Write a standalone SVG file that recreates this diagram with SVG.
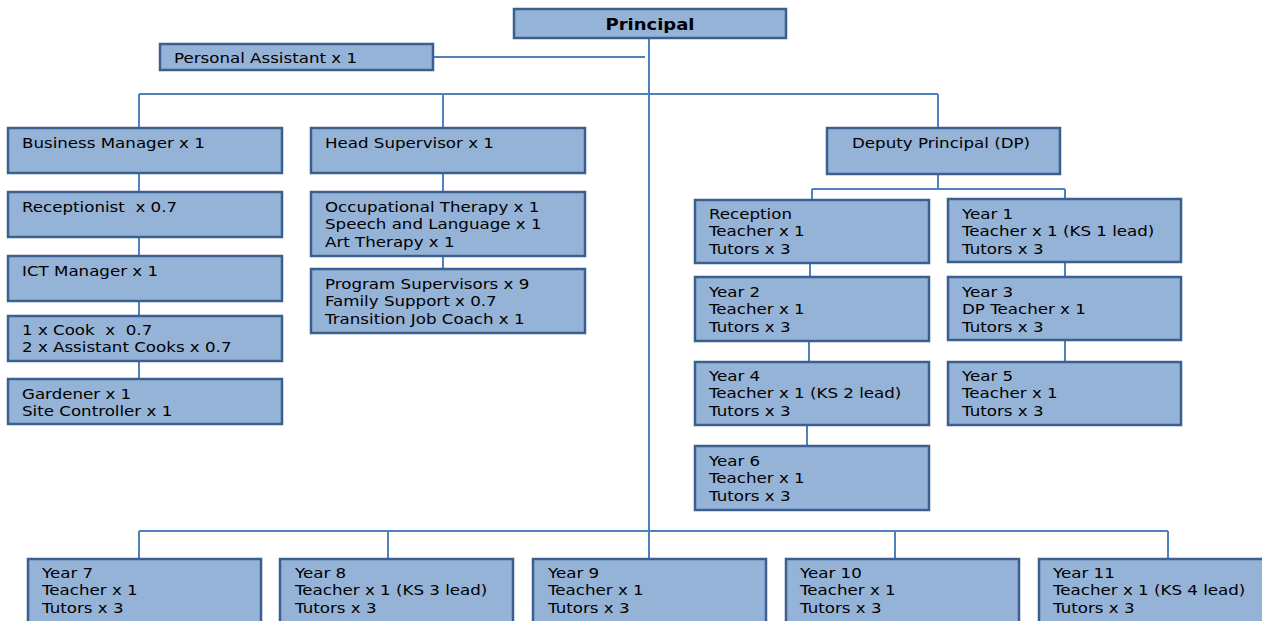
<svg xmlns="http://www.w3.org/2000/svg" width="1262" height="621" viewBox="0 0 1262 621">
<style>
.box{fill:#95B3D7;stroke:#3B6090;stroke-width:2.5}
.t{font-family:"DejaVu Sans",sans-serif;font-size:14.5px;fill:#000}
.b{font-family:"DejaVu Sans",sans-serif;font-size:15.5px;font-weight:bold;fill:#000}
.c{fill:none;stroke:#4F81BD;stroke-width:2}
</style>
<rect width="1262" height="621" fill="#fff"/>
<g id="connectors" class="c">
<path d="M433,57 H645"/>
<path d="M649,38 V559"/>
<path d="M139,94 H938 M139,94 V128 M443,94 V128 M938,94 V128"/>
<path d="M139,173 V192 M139,237 V256 M139,301 V316 M139,361 V379"/>
<path d="M443,173 V192 M443,256 V269"/>
<path d="M938,174 V189 M812,189 H1065 M812,189 V200 M1065,189 V199"/>
<path d="M810,263 V277 M809,341 V362 M807,425 V446"/>
<path d="M1065,262 V277 M1065,340 V362"/>
<path d="M139,531 H1168 M139,531 V559 M388,531 V559 M895,531 V559 M1168,531 V559"/>
</g>
<g id="principal" transform="translate(514,9)"><rect class="box" width="272" height="29"/><text class="b" transform="translate(136,21) scale(1.16,1)" text-anchor="middle">Principal</text></g>
<g id="pa" transform="translate(160,44)"><rect class="box" width="273" height="26"/><text class="t" transform="translate(14,19) scale(1.15,1)">Personal Assistant x 1</text></g>
<g id="bm" transform="translate(8,128)"><rect class="box" width="274" height="45"/><text class="t" transform="translate(14,20) scale(1.15,1)">Business Manager x 1</text></g>
<g id="receptionist" transform="translate(8,192)"><rect class="box" width="274" height="45"/><text class="t" transform="translate(14,20) scale(1.15,1)" xml:space="preserve">Receptionist  x 0.7</text></g>
<g id="ict" transform="translate(8,256)"><rect class="box" width="274" height="45"/><text class="t" transform="translate(14,20) scale(1.15,1)">ICT Manager x 1</text></g>
<g id="cook" transform="translate(8,316)"><rect class="box" width="274" height="45"/><text class="t" transform="translate(14,19) scale(1.15,1)" xml:space="preserve"><tspan x="0" y="0">1 x Cook  x  0.7</tspan><tspan x="0" y="17.5">2 x Assistant Cooks x 0.7</tspan></text></g>
<g id="gardener" transform="translate(8,379)"><rect class="box" width="274" height="45"/><text class="t" transform="translate(14,20) scale(1.15,1)"><tspan x="0" y="0">Gardener x 1</tspan><tspan x="0" y="17.5">Site Controller x 1</tspan></text></g>
<g id="hs" transform="translate(311,128)"><rect class="box" width="274" height="45"/><text class="t" transform="translate(14,20) scale(1.15,1)">Head Supervisor x 1</text></g>
<g id="therapy" transform="translate(311,192)"><rect class="box" width="274" height="64"/><text class="t" transform="translate(14,20) scale(1.15,1)"><tspan x="0" y="0">Occupational Therapy x 1</tspan><tspan x="0" y="17.5">Speech and Language x 1</tspan><tspan x="0" y="35">Art Therapy x 1</tspan></text></g>
<g id="program" transform="translate(311,269)"><rect class="box" width="274" height="64"/><text class="t" transform="translate(14,20) scale(1.15,1)"><tspan x="0" y="0">Program Supervisors x 9</tspan><tspan x="0" y="17.5">Family Support x 0.7</tspan><tspan x="0" y="35">Transition Job Coach x 1</tspan></text></g>
<g id="dp" transform="translate(827,128)"><rect class="box" width="233" height="46"/><text class="t" transform="translate(25,20) scale(1.15,1)">Deputy Principal (DP)</text></g>
<g id="reception" transform="translate(695,200)"><rect class="box" width="234" height="63"/><text class="t" transform="translate(14,19) scale(1.15,1)"><tspan x="0" y="0">Reception</tspan><tspan x="0" y="17.5">Teacher x 1</tspan><tspan x="0" y="35">Tutors x 3</tspan></text></g>
<g id="year1" transform="translate(948,199)"><rect class="box" width="233" height="63"/><text class="t" transform="translate(14,20) scale(1.15,1)"><tspan x="0" y="0">Year 1</tspan><tspan x="0" y="17.5">Teacher x 1 (KS 1 lead)</tspan><tspan x="0" y="35">Tutors x 3</tspan></text></g>
<g id="year2" transform="translate(695,277)"><rect class="box" width="234" height="64"/><text class="t" transform="translate(14,20) scale(1.15,1)"><tspan x="0" y="0">Year 2</tspan><tspan x="0" y="17.5">Teacher x 1</tspan><tspan x="0" y="35">Tutors x 3</tspan></text></g>
<g id="year3" transform="translate(948,277)"><rect class="box" width="233" height="63"/><text class="t" transform="translate(14,20) scale(1.15,1)"><tspan x="0" y="0">Year 3</tspan><tspan x="0" y="17.5">DP Teacher x 1</tspan><tspan x="0" y="35">Tutors x 3</tspan></text></g>
<g id="year4" transform="translate(695,362)"><rect class="box" width="234" height="63"/><text class="t" transform="translate(14,19) scale(1.15,1)"><tspan x="0" y="0">Year 4</tspan><tspan x="0" y="17.5">Teacher x 1 (KS 2 lead)</tspan><tspan x="0" y="35">Tutors x 3</tspan></text></g>
<g id="year5" transform="translate(948,362)"><rect class="box" width="233" height="63"/><text class="t" transform="translate(14,19) scale(1.15,1)"><tspan x="0" y="0">Year 5</tspan><tspan x="0" y="17.5">Teacher x 1</tspan><tspan x="0" y="35">Tutors x 3</tspan></text></g>
<g id="year6" transform="translate(695,446)"><rect class="box" width="234" height="64"/><text class="t" transform="translate(14,20) scale(1.15,1)"><tspan x="0" y="0">Year 6</tspan><tspan x="0" y="17.5">Teacher x 1</tspan><tspan x="0" y="35">Tutors x 3</tspan></text></g>
<g id="year7" transform="translate(28,559)"><rect class="box" width="233" height="80"/><text class="t" transform="translate(14,19) scale(1.15,1)"><tspan x="0" y="0">Year 7</tspan><tspan x="0" y="17.5">Teacher x 1</tspan><tspan x="0" y="35">Tutors x 3</tspan></text></g>
<g id="year8" transform="translate(280,559)"><rect class="box" width="233" height="80"/><text class="t" transform="translate(15,19) scale(1.15,1)"><tspan x="0" y="0">Year 8</tspan><tspan x="0" y="17.5">Teacher x 1 (KS 3 lead)</tspan><tspan x="0" y="35">Tutors x 3</tspan></text></g>
<g id="year9" transform="translate(533,559)"><rect class="box" width="233" height="80"/><text class="t" transform="translate(15,19) scale(1.15,1)"><tspan x="0" y="0">Year 9</tspan><tspan x="0" y="17.5">Teacher x 1</tspan><tspan x="0" y="35">Tutors x 3</tspan></text></g>
<g id="year10" transform="translate(786,559)"><rect class="box" width="233" height="80"/><text class="t" transform="translate(14,19) scale(1.15,1)"><tspan x="0" y="0">Year 10</tspan><tspan x="0" y="17.5">Teacher x 1</tspan><tspan x="0" y="35">Tutors x 3</tspan></text></g>
<g id="year11" transform="translate(1039,559)"><rect class="box" width="233" height="80"/><text class="t" transform="translate(14,19) scale(1.15,1)"><tspan x="0" y="0">Year 11</tspan><tspan x="0" y="17.5">Teacher x 1 (KS 4 lead)</tspan><tspan x="0" y="35">Tutors x 3</tspan></text></g>
</svg>
